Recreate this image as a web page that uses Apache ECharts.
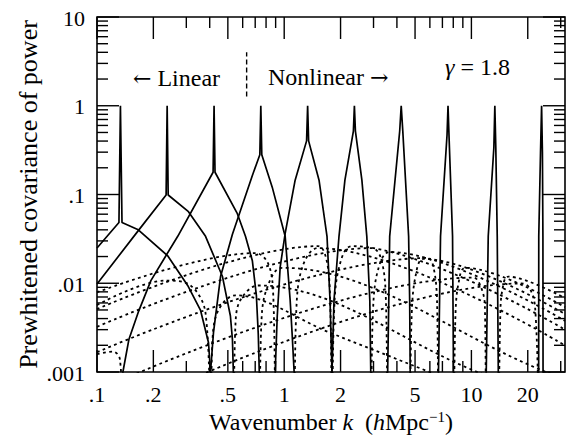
<!DOCTYPE html>
<html>
<head>
<meta charset="utf-8">
<script src="https://cdn.jsdelivr.net/npm/echarts@6/dist/echarts.min.js"></script>
<style>
html,body{margin:0;padding:0;background:#fff}
#chart{width:578px;height:439px}
</style>
</head>
<body>
<div id="chart"></div>
<script>
// Axis ranges: wavenumber k (h/Mpc) and prewhitened covariance
const kRange = [0.1, 31.62];
const covRange = [0.001, 10];

// Tick values and labels
const xMajorTicks = [0.1, 0.2, 0.5, 1, 2, 5, 10, 20];
const xTickLabels = ['.1', '.2', '.5', '1', '2', '5', '10', '20'];
const xMinorTicks = [0.3, 0.4, 0.6, 0.7, 0.8, 0.9, 3, 4, 6, 7, 8, 9, 30];
const yMajorTicks = [0.001, 0.01, 0.1, 1, 10];
const yTickLabels = ['.001', '.01', '.1', '1', '10'];
const yMinorTicks = [
  0.002, 0.003, 0.004, 0.005, 0.006, 0.007, 0.008, 0.009,
  0.02, 0.03, 0.04, 0.05, 0.06, 0.07, 0.08, 0.09,
  0.2, 0.3, 0.4, 0.5, 0.6, 0.7, 0.8, 0.9,
  2, 3, 4, 5, 6, 7, 8, 9
];

// Linear / nonlinear boundary marker
const dividerLine = [[0.63, 1.27], [0.63, 4.0]];

// Positive covariance of each band power with the power at k (solid)
const covBin0 = [[0.1,0.025],[0.131,0.0483],[0.1334,1],[0.136,0.0483],[0.165,0.0404],[0.239,0.0203],[0.305,0.00944],[0.357,0.00499],[0.394,0.00215],[0.404,0.001],[0.406,0.0003]];
const covBin1 = [[0.1,0.0098],[0.165,0.0384],[0.234,0.0987],[0.237,1],[0.240,0.0987],[0.308,0.064],[0.380,0.0338],[0.468,0.0119],[0.516,0.00428],[0.529,0.00232],[0.535,0.001],[0.538,0.0003]];
const covBin2 = [[0.1367,0.0003],[0.1375,0.001],[0.148,0.00232],[0.167,0.00486],[0.194,0.0107],[0.233,0.0203],[0.270,0.0338],[0.417,0.178],[0.422,1],[0.427,0.178],[0.562,0.0608],[0.621,0.0338],[0.676,0.0179],[0.710,0.00731],[0.727,0.00264],[0.736,0.001],[0.739,0.0003]];
const covBin3 = [[0.401,0.0003],[0.404,0.001],[0.419,0.00278],[0.457,0.0119],[0.529,0.0356],[0.676,0.164],[0.741,0.281],[0.75,1],[0.759,0.281],[0.863,0.121],[1.012,0.0338],[1.076,0.00644],[1.103,0.00264],[1.130,0.001],[1.134,0.0003]];
const covBin4 = [[0.890,0.0003],[0.895,0.001],[0.918,0.00428],[0.952,0.0153],[1.012,0.0365],[1.144,0.145],[1.317,0.402],[1.334,1],[1.350,0.402],[1.535,0.145],[1.693,0.0338],[1.757,0.00644],[1.800,0.001],[1.806,0.0003]];
const covBin5 = [[1.789,0.0003],[1.800,0.001],[1.845,0.00644],[1.962,0.0338],[2.11,0.145],[2.342,0.519],[2.371,1],[2.401,0.519],[2.600,0.145],[2.762,0.0338],[2.866,0.00644],[2.90,0.001],[2.91,0.0003]];
const covBin6 = [[3.552,0.0003],[3.57,0.001],[3.62,0.00644],[3.66,0.0338],[4.14,0.519],[4.217,1],[4.30,0.519],[4.62,0.0338],[4.68,0.00644],[4.71,0.001],[4.72,0.0003]];
const covBin7 = [[6.64,0.0003],[6.67,0.001],[6.76,0.00644],[6.84,0.0338],[7.41,0.468],[7.50,1],[7.59,0.468],[7.93,0.0338],[8.02,0.001],[8.03,0.0003]];
const covBin8 = [[11.94,0.0003],[12.0,0.001],[12.3,0.0338],[13.18,0.336],[13.34,1],[13.50,0.336],[13.74,0.0338],[13.92,0.001],[13.95,0.0003]];
const covBin9 = [[22.86,0.0003],[22.9,0.0338],[23.4,0.3],[23.71,1],[23.95,0.3],[24.1,0.0338],[24.15,0.0003]];

// Magnitude of the negative covariance beyond each zero crossing (dotted)
const negLeft2 = [[0.1,0.00158],[0.1216,0.0017],[0.1325,0.0014],[0.1367,0.0003]];
const negLeft3 = [[0.1,0.00567],[0.233,0.01073],[0.316,0.00944],[0.380,0.00462],[0.401,0.0003]];
const negLeft4 = [[0.1,0.0079],[0.701,0.0219],[0.822,0.01655],[0.874,0.00731],[0.8935,0.0003]];
const negLeft5 = [[0.1,0.00512],[1.516,0.0262],[1.673,0.0193],[1.757,0.00731],[1.789,0.0003]];
const negLeft6 = [[0.1,0.00323],[2.938,0.0249],[3.281,0.0193],[3.487,0.00731],[3.552,0.0003]];
const negLeft7 = [[0.1,0.00167],[5.834,0.0193],[6.28,0.01494],[6.55,0.00644],[6.64,0.0003]];
const negLeft8 = [[0.1517,0.0009],[10.25,0.01158],[11.16,0.00944],[11.80,0.00567],[11.94,0.0003]];
const negLeft9 = [[0.357,0.00092],[18.45,0.00994],[20.35,0.00897],[21.89,0.00538],[22.86,0.0003]];

const negRight0 = [[0.4065,0.0003],[0.414,0.00232],[0.4455,0.00499],[0.549,0.00731],[1.757,0.00277],[5.98,0.001],[6.5,0.00094]];
const negRight1 = [[0.5386,0.0003],[0.549,0.0034],[0.583,0.00644],[0.727,0.00944],[10.76,0.001],[12.46,0.00088]];
const negRight2 = [[0.741,0.0003],[0.7545,0.0034],[0.802,0.00831],[0.976,0.01494],[25.06,0.001],[29.4,0.00088]];
const negRight3 = [[1.137,0.0003],[1.158,0.00439],[1.247,0.01494],[1.516,0.0249],[31.62,0.00199]];
const negRight4 = [[1.811,0.0003],[1.845,0.00439],[1.962,0.01494],[2.300,0.0262],[31.62,0.0030]];
const negRight5 = [[2.920,0.0003],[2.975,0.00439],[3.162,0.01385],[3.663,0.0225],[31.62,0.00377]];
const negRight6 = [[4.71,0.0003],[4.797,0.00439],[5.036,0.01219],[5.556,0.0188],[31.62,0.0045]];
const negRight7 = [[8.07,0.0003],[8.22,0.00439],[8.53,0.00994],[9.29,0.01494],[31.62,0.00538]];
const negRight8 = [[14.0,0.0003],[14.27,0.00439],[14.62,0.00831],[15.73,0.01188],[31.62,0.00678]];

const solidCurves = [covBin0, covBin1, covBin2, covBin3, covBin4, covBin5, covBin6, covBin7, covBin8, covBin9];
const dottedCurves = [
  negLeft2, negLeft3, negLeft4, negLeft5, negLeft6, negLeft7, negLeft8, negLeft9,
  negRight0, negRight1, negRight2, negRight3, negRight4, negRight5, negRight6, negRight7, negRight8
];

const FONT = '"Liberation Serif", "Times New Roman", serif';
const ARROW_FONT = '"DejaVu Serif", serif';
const INK = '#000';

const chart = echarts.init(document.getElementById('chart'), null, { renderer: 'svg' });

// Inward ticks drawn on both opposite sides of the frame
function xTicks(values, len) {
  return {
    type: 'custom', silent: true, z: 6, animation: false,
    data: values.map(k => [k, covRange[0]]),
    renderItem(params, api) {
      const k = api.value(0);
      const b = api.coord([k, covRange[0]]);
      const t = api.coord([k, covRange[1]]);
      const st = { stroke: INK, lineWidth: 1.4 };
      return { type: 'group', children: [
        { type: 'line', shape: { x1: b[0], y1: b[1], x2: b[0], y2: b[1] - len }, style: st },
        { type: 'line', shape: { x1: t[0], y1: t[1], x2: t[0], y2: t[1] + len }, style: st }
      ] };
    }
  };
}
function yTicks(values, len) {
  return {
    type: 'custom', silent: true, z: 6, animation: false,
    data: values.map(v => [kRange[0], v]),
    renderItem(params, api) {
      const v = api.value(1);
      const l = api.coord([kRange[0], v]);
      const r = api.coord([kRange[1], v]);
      const st = { stroke: INK, lineWidth: 1.4 };
      return { type: 'group', children: [
        { type: 'line', shape: { x1: l[0], y1: l[1], x2: l[0] + len, y2: l[1] }, style: st },
        { type: 'line', shape: { x1: r[0], y1: r[1], x2: r[0] - len, y2: r[1] }, style: st }
      ] };
    }
  };
}
const xLabelSeries = {
  type: 'custom', silent: true, animation: false,
  data: xMajorTicks.map(k => [k, covRange[0]]),
  renderItem(params, api) {
    const p = api.coord([api.value(0), covRange[0]]);
    return { type: 'text', x: p[0], y: p[1] + 22, style: {
      text: xTickLabels[params.dataIndex], align: 'center', verticalAlign: 'middle',
      fontSize: 22, fontFamily: FONT, fill: INK } };
  }
};
const yLabelSeries = {
  type: 'custom', silent: true, animation: false,
  data: yMajorTicks.map(v => [kRange[0], v]),
  renderItem(params, api) {
    const p = api.coord([kRange[0], api.value(1)]);
    return { type: 'text', x: p[0] - 12, y: p[1] + 1, style: {
      text: yTickLabels[params.dataIndex], align: 'right', verticalAlign: 'middle',
      fontSize: 22, fontFamily: FONT, fill: INK } };
  }
};

const series = [];
solidCurves.forEach(d => series.push({
  type: 'line', data: d, symbol: 'none', silent: true, z: 3, clip: true,
  lineStyle: { color: INK, width: 1.7 }
}));
dottedCurves.forEach(d => series.push({
  type: 'line', data: d, symbol: 'none', silent: true, z: 2, clip: true, smooth: 0.35,
  lineStyle: { color: INK, width: 1.8, type: [2.8, 3.4] }
}));
series.push({
  type: 'line', data: dividerLine, symbol: 'none', silent: true, clip: false,
  lineStyle: { color: INK, width: 1.4, type: [5, 3] }
});
series.push(xTicks(xMajorTicks, 22), xTicks(xMinorTicks, 11), yTicks(yMajorTicks, 22), yTicks(yMinorTicks, 11));
series.push(xLabelSeries, yLabelSeries);

const annotationRich = {
  arw: { fontFamily: ARROW_FONT, fontSize: 22, fill: INK },
  g: { fontStyle: 'italic', fontSize: 24, fontFamily: FONT }
};

chart.setOption({
  animation: false,
  backgroundColor: '#fff',
  textStyle: { fontFamily: FONT, color: INK },
  grid: { left: 97, right: 13, top: 17, bottom: 61, show: true, borderColor: INK, borderWidth: 1.6, backgroundColor: 'transparent' },
  xAxis: {
    type: 'log', logBase: 10, min: kRange[0], max: kRange[1],
    axisLine: { show: false }, axisTick: { show: false }, axisLabel: { show: false }, splitLine: { show: false },
    name: 'Wavenumber {i|k}\u00a0\u00a0({i|h}Mpc{sup|\u22121})',
    nameLocation: 'middle', nameGap: 37,
    nameTextStyle: {
      fontFamily: FONT, fontSize: 24, color: INK,
      rich: {
        i: { fontFamily: FONT, fontSize: 24, fontStyle: 'italic', color: INK },
        sup: { fontFamily: FONT, fontSize: 15, color: INK, verticalAlign: 'top', lineHeight: 26 }
      }
    }
  },
  yAxis: {
    type: 'log', logBase: 10, min: covRange[0], max: covRange[1],
    axisLine: { show: false }, axisTick: { show: false }, axisLabel: { show: false }, splitLine: { show: false },
    name: 'Prewhitened covariance of power',
    nameLocation: 'middle', nameGap: 56, nameRotate: 90,
    nameTextStyle: { fontFamily: FONT, fontSize: 26, color: INK }
  },
  graphic: [
    { type: 'text', left: 133, top: 66, silent: true,
      style: { text: '{arw|\u2190} Linear', fontSize: 24, fontFamily: FONT, fill: INK, rich: annotationRich } },
    { type: 'text', left: 268, top: 65, silent: true,
      style: { text: 'Nonlinear {arw|\u2192}', fontSize: 24, fontFamily: FONT, fill: INK, rich: annotationRich } },
    { type: 'text', left: 445, top: 55, silent: true,
      style: { text: '{g|\u03b3} = 1.8', fontSize: 24, fontFamily: FONT, fill: INK, rich: annotationRich } }
  ],
  series: series
});
</script>
</body>
</html>
